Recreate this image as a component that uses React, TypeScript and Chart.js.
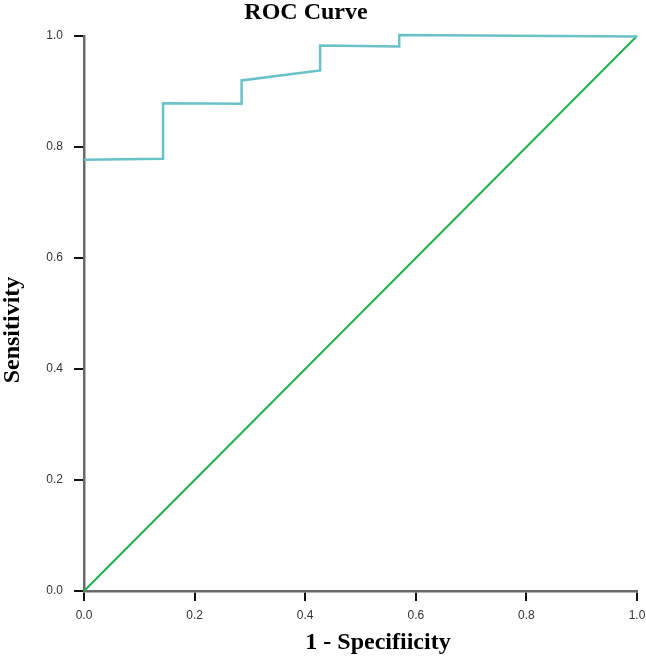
import React, { useEffect, useRef } from "react";
import { Chart, registerables } from "chart.js";

Chart.register(...registerables);

// ROC curve (false positive rate vs true positive rate)
const rocFpr = [0, 0.143, 0.143, 0.285, 0.285, 0.427, 0.427, 0.57, 0.57, 1.0];
const rocTpr = [0.777, 0.779, 0.879, 0.878, 0.92, 0.938, 0.983, 0.981, 1.002, 0.999];

// Chance line
const refFpr = [0, 1];
const refTpr = [0, 1];

// Axis ticks
const xTickValues = [0, 0.2, 0.4, 0.6, 0.8, 1.0];
const yTickValues = [0, 0.2, 0.4, 0.6, 0.8, 1.0];

const chartTitle = "ROC Curve";
const xAxisTitle = "1 - Specifiicity";
const yAxisTitle = "Sensitivity";

const SERIF = '"Liberation Serif", "Times New Roman", Times, serif';
const SANS = '"Liberation Sans", Arial, Helvetica, sans-serif';

const textLabels = {
  id: "textLabels",
  afterDraw(chart: any) {
    const { ctx, chartArea } = chart;
    ctx.save();
    ctx.fillStyle = "#000";
    ctx.font = `bold 24px ${SERIF}`;
    ctx.textAlign = "center";
    ctx.textBaseline = "alphabetic";
    // title
    ctx.fillText(chartTitle, chartArea.left + 222, chartArea.top - 17.5);
    // x axis title
    ctx.fillText(xAxisTitle, chartArea.left + 294, chartArea.bottom + 58);
    // y axis title
    ctx.translate(19, chartArea.top + 294);
    ctx.rotate(-Math.PI / 2);
    ctx.fillText(yAxisTitle, 0, 0);
    ctx.restore();
  },
};

function toPoints(xs: number[], ys: number[]) {
  return xs.map((x, i) => ({ x, y: ys[i] }));
}

export default function App() {
  const canvasRef = useRef<HTMLCanvasElement | null>(null);

  useEffect(() => {
    if (!canvasRef.current) return;
    const axisCommon = {
      type: "linear" as const,
      min: 0,
      max: 1,
      border: { display: true, color: "#6a6a6a", width: 2.5 },
      grid: {
        display: true,
        drawOnChartArea: false,
        drawTicks: true,
        tickLength: 10,
        color: "#111",
        lineWidth: 2,
      },
    };
    const chart = new Chart(canvasRef.current, {
      type: "scatter",
      data: {
        datasets: [
          {
            label: "ROC",
            data: toPoints(rocFpr, rocTpr),
            showLine: true,
            borderColor: "#68c2c7",
            borderWidth: 2.5,
            pointRadius: 0,
            tension: 0,
            clip: false as any,
          },
          {
            label: "Reference",
            data: toPoints(refFpr, refTpr),
            showLine: true,
            borderColor: "#1fb04c",
            borderWidth: 2,
            pointRadius: 0,
            tension: 0,
            clip: false as any,
          },
        ],
      },
      options: {
        responsive: false,
        animation: false,
        devicePixelRatio: 1,
        layout: { padding: { top: 36, right: 9, left: 0, bottom: 0 } },
        plugins: {
          legend: { display: false },
          tooltip: { enabled: false },
          title: { display: false },
        },
        scales: {
          x: {
            ...axisCommon,
            position: "bottom",
            afterFit: (scale: any) => {
              scale.height = 67;
              scale.paddingLeft = 0;
              scale.paddingRight = 0;
            },
            afterBuildTicks: (scale: any) => {
              scale.ticks = xTickValues.map((v) => ({ value: v }));
            },
            ticks: {
              padding: 7,
              color: "#333",
              font: { family: SANS, size: 12 },
              maxRotation: 0,
              callback: (v: any) => Number(v).toFixed(1),
            },
          },
          y: {
            ...axisCommon,
            position: "left",
            afterFit: (scale: any) => {
              scale.width = 84;
              scale.paddingTop = 0;
              scale.paddingBottom = 0;
            },
            afterBuildTicks: (scale: any) => {
              scale.ticks = yTickValues.map((v) => ({ value: v }));
            },
            ticks: {
              padding: 11,
              color: "#333",
              font: { family: SANS, size: 12 },
              callback: (v: any) => Number(v).toFixed(1),
            },
          },
        },
      } as any,
      plugins: [textLabels],
    });
    return () => chart.destroy();
  }, []);

  return (
    <div style={{ position: "absolute", left: 0, top: 0, width: 646, height: 658, background: "#fff" }}>
      <canvas ref={canvasRef} width={646} height={658} style={{ display: "block" }} />
    </div>
  );
}
